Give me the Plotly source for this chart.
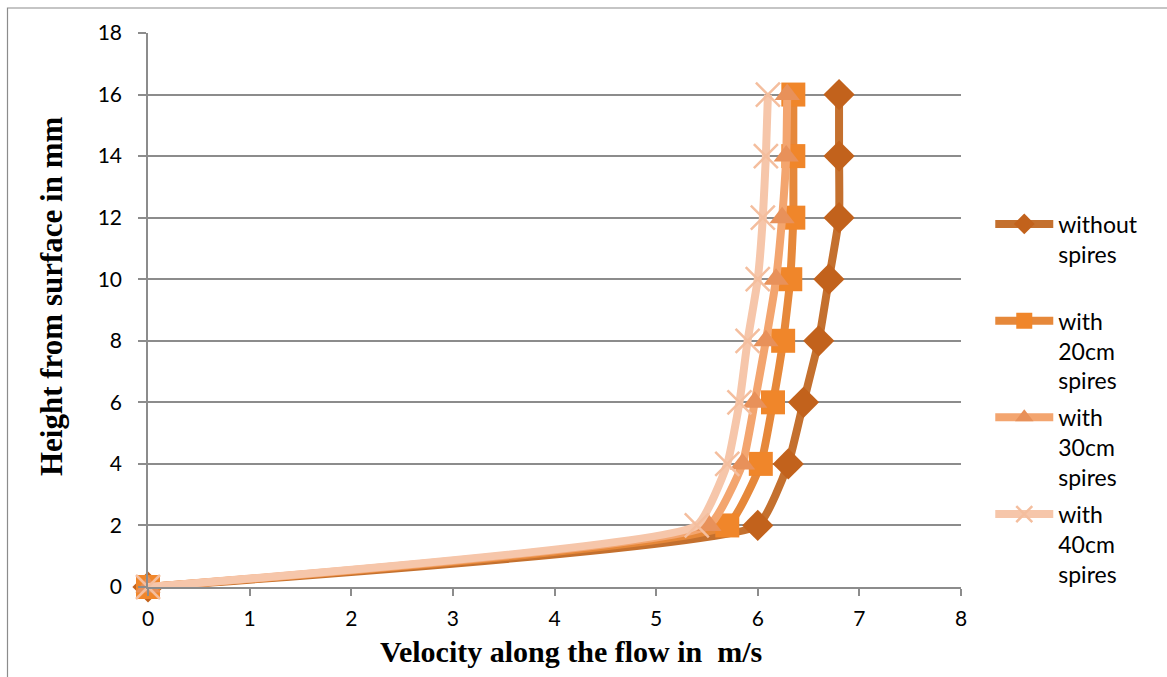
import plotly.graph_objects as go

heights = [0, 2, 4, 6, 8, 10, 12, 14, 16]
v_without = [0, 6.0, 6.3, 6.45, 6.6, 6.7, 6.8, 6.8, 6.8]
v_20cm = [0, 5.7, 6.03, 6.15, 6.25, 6.32, 6.35, 6.35, 6.35]
v_30cm = [0, 5.52, 5.85, 5.97, 6.08, 6.18, 6.24, 6.28, 6.29]
v_40cm = [0, 5.4, 5.7, 5.82, 5.9, 6.0, 6.05, 6.08, 6.1]

names = ["without<br>spires<br> ", "with<br>20cm<br>spires", "with<br>30cm<br>spires", "with<br>40cm<br>spires"]
series = [v_without, v_20cm, v_30cm, v_40cm]
line_colors = ["#C4702E", "#E6883A", "#F3A56F", "#F6C6AA"]
marker_colors = ["#C2621C", "#F0862A", "#E8915A", "#F4BE9E"]
symbols = ["diamond", "square", "triangle-up", "x-thin-open"]
sizes = [24, 24, 22, 24]

fig = go.Figure()
for i, (nm, vals) in enumerate(zip(names, series)):
    mk = dict(symbol=symbols[i], size=sizes[i], color=marker_colors[i])
    if symbols[i] == "x-thin-open":
        mk["line"] = dict(width=2.5, color=marker_colors[i])
    else:
        mk["line"] = dict(width=0)
    fig.add_trace(go.Scatter(
        x=vals, y=heights, name=nm, mode="lines+markers",
        line=dict(color=line_colors[i], width=8, shape="spline", smoothing=0.4),
        marker=mk, legendgroup=str(i), cliponaxis=False,
    ))

tick_font = dict(family="Lato, 'Noto Sans', sans-serif", size=21, color="#000")

fig.update_layout(
    width=1167, height=677,
    margin=dict(l=148, r=206, t=33, b=90),
    paper_bgcolor="white", plot_bgcolor="white",
    showlegend=True,
    legend=dict(x=1.036, y=0.694, xanchor="left", yanchor="top",
                font=dict(family="Lato, 'Noto Sans', sans-serif", size=23, color="#000"),
                traceorder="grouped", tracegroupgap=4, valign="top",
                itemwidth=58),
    xaxis=dict(range=[0, 8], dtick=1, showgrid=False, zeroline=False,
               showline=True, linecolor="#8c8c8c", linewidth=1.5,
               ticks="outside", ticklen=7, tickcolor="#8c8c8c", tickwidth=1.5,
               ticklabelstandoff=5, tickfont=tick_font),
    yaxis=dict(range=[0, 18], dtick=2, showgrid=True, gridcolor="#8c8c8c", gridwidth=1.5,
               zeroline=False, showline=True, linecolor="#8c8c8c", linewidth=1.5,
               ticks="outside", ticklen=8, tickcolor="#8c8c8c", tickwidth=1.5,
               ticklabelstandoff=12, tickfont=tick_font),
    annotations=[
        dict(text="<b>Velocity along the flow in  m/s</b>", xref="paper", yref="paper",
             x=(571 - 148) / 813, y=(587 - 651) / 554, xanchor="center", yanchor="middle",
             showarrow=False, font=dict(family="Liberation Serif, serif", size=30, color="#000")),
        dict(text="<b>Height from surface in mm</b>", xref="paper", yref="paper",
             x=(51 - 148) / 813, y=(587 - 297) / 554, xanchor="center", yanchor="middle",
             textangle=-90, showarrow=False,
             font=dict(family="Liberation Serif, serif", size=31, color="#000")),
    ],
    shapes=[
        dict(type="rect", xref="paper", yref="paper",
             x0=(7.5 - 148) / 813, x1=(1200 - 148) / 813,
             y0=(587 - 700) / 554, y1=(587 - 8) / 554,
             line=dict(color="#8c8c8c", width=1.2), layer="below"),
    ],
)

fig.write_html("out.html")
